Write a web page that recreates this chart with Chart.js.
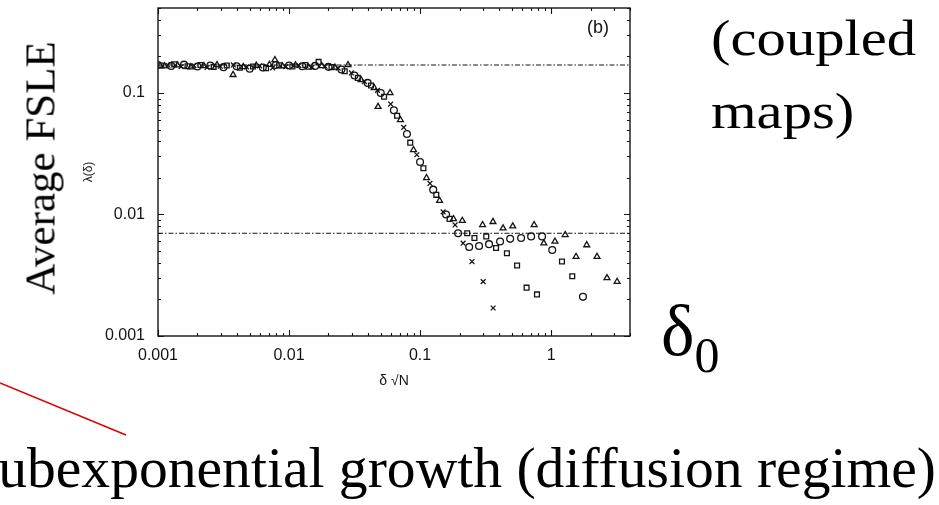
<!DOCTYPE html>
<html>
<head>
<meta charset="utf-8">
<script src="https://cdn.jsdelivr.net/npm/chart.js@4.4.1/dist/chart.umd.min.js"></script>
<style>
    html, body { margin: 0; padding: 0; background: #fff; overflow: hidden; }
    #wrap { position: relative; width: 939px; height: 505px; }
    #fsle { position: absolute; left: 0; top: 0; width: 939px; height: 505px; }
    .serif { position: absolute; font-family: "Liberation Serif", "Times New Roman", serif; color: #000; white-space: nowrap; line-height: 1; }
    #avg { left: 40px; top: 168px; font-size: 43px; transform: translate(-50%, -50%) rotate(-90deg); }
    #coupled { left: 711px; top: 2px; font-size: 51px; line-height: 73px; transform: scaleX(1.15); transform-origin: 0 0; }
    #delta { left: 661px; top: 296px; font-size: 71px; }
    #delta sub { font-size: 50px; vertical-align: -17px; }
    #regime { right: 3px; top: 439px; font-size: 57.6px; }
    #panel { position: absolute; left: 587px; top: 17px; font: 18px "Liberation Sans", Arial, sans-serif; color: #111; }
    #arrow { position: absolute; left: 0; top: 0; }
</style>
</head>
<body>
<div id="wrap">
    <canvas id="fsle" width="939" height="505"></canvas>
    <div id="avg" class="serif">Average FSLE</div>
    <div id="coupled" class="serif">(coupled<br>maps)</div>
    <div id="delta" class="serif">δ<sub>0</sub></div>
    <div id="regime" class="serif">ubexponential growth (diffusion regime)</div>
    <div id="panel">(b)</div>
    <svg id="arrow" width="939" height="505"><line x1="0" y1="383" x2="126" y2="435" stroke="#e00000" stroke-width="1.6"/></svg>
</div>
<script>
// axis ranges
const xMin = 0.001, xMax = 4;
const yMin = 0.001, yMax = 0.5;

// saturation levels (dash-dot lines)
const levels = [0.17, 0.007];

// circles
const circX = [0.00100, 0.00126, 0.00158, 0.00200, 0.00251, 0.00316, 0.00398, 0.00501, 0.00631, 0.00794,
    0.0100, 0.0126, 0.0158, 0.0200, 0.0251, 0.0316, 0.0398, 0.0501, 0.0631, 0.0794,
    0.100, 0.126, 0.158, 0.195, 0.237, 0.282, 0.336, 0.408, 0.487, 0.590, 0.704, 0.853, 1.02, 1.75];
const circY = [0.170, 0.167, 0.171, 0.165, 0.168, 0.163, 0.166, 0.158, 0.162, 0.170,
    0.168, 0.166, 0.167, 0.164, 0.156, 0.139, 0.121, 0.100, 0.072, 0.046,
    0.027, 0.016, 0.0100, 0.0070, 0.0054, 0.0055, 0.0057, 0.0060, 0.0063, 0.0064, 0.0066, 0.0066, 0.0051, 0.0021];

// squares
const sqX = [0.00106, 0.00133, 0.00168, 0.00211, 0.00266, 0.00335, 0.00422, 0.00531, 0.00668, 0.00841,
    0.0106, 0.0133, 0.0168, 0.0211, 0.0266, 0.0335, 0.0422, 0.0531, 0.0668, 0.0841,
    0.106, 0.133, 0.168, 0.229, 0.260, 0.320, 0.380, 0.460, 0.550, 0.650, 0.780, 1.21, 1.45];
const sqY = [0.168, 0.172, 0.166, 0.170, 0.164, 0.168, 0.161, 0.165, 0.160, 0.169,
    0.165, 0.170, 0.180, 0.163, 0.151, 0.133, 0.115, 0.093, 0.065, 0.039,
    0.024, 0.0145, 0.0092, 0.0070, 0.0064, 0.0066, 0.0053, 0.0048, 0.0038, 0.0025, 0.0022, 0.0041, 0.0031];

// triangles
const triX = [0.00112, 0.00141, 0.00178, 0.00224, 0.00282, 0.00374, 0.00447, 0.00562, 0.00708, 0.0078,
    0.00891, 0.0112, 0.0141, 0.0178, 0.0224, 0.0282, 0.0355, 0.0447, 0.0478, 0.059,
    0.0708, 0.0891, 0.112, 0.141, 0.180, 0.210, 0.300, 0.360, 0.430, 0.510, 0.742, 0.880, 1.07, 1.28,
    1.55, 1.87, 2.24, 2.67, 3.19];
const triY = [0.166, 0.169, 0.163, 0.167, 0.170, 0.141, 0.164, 0.168, 0.171, 0.187,
    0.166, 0.169, 0.162, 0.167, 0.162, 0.170, 0.128, 0.110, 0.077, 0.100,
    0.060, 0.034, 0.020, 0.013, 0.0092, 0.0089, 0.0082, 0.0087, 0.0077, 0.0080, 0.0082, 0.0058, 0.0060, 0.0068,
    0.0045, 0.0056, 0.0045, 0.0030, 0.0028];

// crosses
const crossX = [0.00119, 0.00150, 0.00188, 0.00237, 0.00299, 0.00376, 0.00473, 0.00596, 0.00750, 0.00944,
    0.0119, 0.0150, 0.0188, 0.0237, 0.0299, 0.0376, 0.0473, 0.0596, 0.0750, 0.0944,
    0.119, 0.150, 0.185, 0.213, 0.249, 0.303, 0.361];
const crossY = [0.169, 0.165, 0.168, 0.162, 0.166, 0.170, 0.164, 0.167, 0.161, 0.165,
    0.168, 0.163, 0.166, 0.160, 0.146, 0.124, 0.105, 0.081, 0.052, 0.031,
    0.018, 0.0105, 0.0082, 0.0058, 0.0041, 0.0028, 0.0017];

const ink = '#141414';
const tickFont = { family: '"Liberation Sans", Arial, sans-serif', size: 16 };

function pairs(xs, ys) {
    return xs.map((x, i) => ({ x: x, y: ys[i] }));
}

// 1..9 x 10^n positions between lo and hi
function logTicks(lo, hi) {
    const out = [];
    for (let e = Math.floor(Math.log10(lo)); e <= Math.ceil(Math.log10(hi)); e++) {
        for (let m = 1; m <= 9; m++) {
            const v = parseFloat((m * Math.pow(10, e)).toPrecision(6));
            if (v >= lo * 0.999 && v <= hi * 1.001) out.push({ value: v });
        }
    }
    return out;
}

function isDecade(v) {
    const l = Math.log10(v);
    return Math.abs(l - Math.round(l)) < 1e-6;
}

function scatterSet(data, style) {
    return {
        type: 'scatter',
        data: data,
        pointStyle: style,
        pointRadius: 3.4,
        pointHoverRadius: 3.4,
        borderWidth: 1.3,
        borderColor: ink,
        backgroundColor: 'rgba(0,0,0,0)'
    };
}

function levelSet(level) {
    return {
        type: 'line',
        data: [{ x: xMin, y: level }, { x: xMax, y: level }],
        borderColor: ink,
        borderWidth: 1.1,
        borderDash: [5, 2, 1.5, 2],
        pointRadius: 0,
        fill: false
    };
}

// box with inward ticks on all four sides
const frame = {
    id: 'frame',
    afterDatasetsDraw(chart) {
        const { ctx, chartArea: a, scales } = chart;
        ctx.save();
        ctx.strokeStyle = ink;
        ctx.lineWidth = 1.4;
        ctx.strokeRect(a.left, a.top, a.right - a.left, a.bottom - a.top);
        ctx.lineWidth = 1.1;
        ctx.beginPath();
        scales.x.ticks.forEach(t => {
            const px = Math.round(scales.x.getPixelForValue(t.value)) + 0.5;
            const len = isDecade(t.value) ? 6 : 3;
            ctx.moveTo(px, a.bottom); ctx.lineTo(px, a.bottom - len);
            ctx.moveTo(px, a.top); ctx.lineTo(px, a.top + len);
        });
        scales.y.ticks.forEach(t => {
            const py = Math.round(scales.y.getPixelForValue(t.value)) + 0.5;
            const len = isDecade(t.value) ? 6 : 3;
            ctx.moveTo(a.left, py); ctx.lineTo(a.left + len, py);
            ctx.moveTo(a.right, py); ctx.lineTo(a.right - len, py);
        });
        ctx.stroke();
        ctx.restore();
    }
};

new Chart(document.getElementById('fsle').getContext('2d'), {
    data: {
        datasets: [
            levelSet(levels[0]),
            levelSet(levels[1]),
            scatterSet(pairs(circX, circY), 'circle'),
            scatterSet(pairs(sqX, sqY), 'rect'),
            scatterSet(pairs(triX, triY), 'triangle'),
            scatterSet(pairs(crossX, crossY), 'crossRot')
        ]
    },
    options: {
        responsive: false,
        animation: false,
        devicePixelRatio: 1,
        layout: { padding: { left: 81, right: 309, top: 8, bottom: 115 } },
        plugins: { legend: { display: false }, tooltip: { enabled: false } },
        scales: {
            x: {
                type: 'logarithmic',
                min: xMin,
                max: xMax,
                afterBuildTicks: s => { s.ticks = logTicks(xMin, xMax); },
                afterFit: s => { s.height = 54; s.paddingLeft = 0; s.paddingRight = 0; },
                grid: { display: false, drawTicks: false },
                border: { display: false },
                ticks: {
                    autoSkip: false,
                    maxRotation: 0,
                    padding: 10,
                    color: ink,
                    font: tickFont,
                    callback: v => isDecade(v) ? String(v) : ''
                },
                title: {
                    display: true,
                    text: 'δ √N',
                    color: ink,
                    font: { family: '"Liberation Sans", Arial, sans-serif', size: 14 },
                    padding: 0
                }
            },
            y: {
                type: 'logarithmic',
                min: yMin,
                max: yMax,
                afterBuildTicks: s => { s.ticks = logTicks(yMin, yMax); },
                afterFit: s => { s.width = 77; s.paddingTop = 0; s.paddingBottom = 0; },
                grid: { display: false, drawTicks: false },
                border: { display: false },
                ticks: {
                    autoSkip: false,
                    padding: 13,
                    color: ink,
                    font: tickFont,
                    callback: v => isDecade(v) ? String(v) : ''
                },
                title: {
                    display: true,
                    text: 'λ(δ)',
                    color: ink,
                    font: { family: '"Liberation Sans", Arial, sans-serif', size: 12 },
                    padding: 0
                }
            }
        }
    },
    plugins: [frame]
});
</script>
</body>
</html>
